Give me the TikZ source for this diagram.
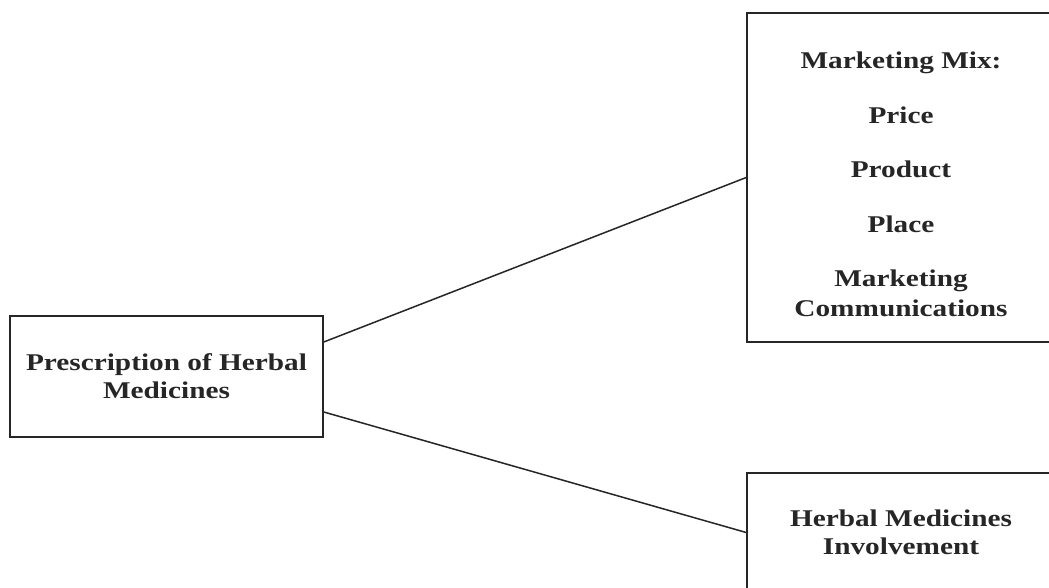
\documentclass[tikz,border=0pt]{standalone}
\usepackage{fontspec}
\setmainfont{Liberation Serif}
\newfontfamily\boxfont[FakeStretch=1.22]{Liberation Serif Bold}
\begin{document}
\begin{tikzpicture}[x=1pt,y=-1pt,
  boxtxt/.style={draw=black!85, line width=1.6pt, rectangle, align=center, inner sep=0pt,
    font=\boxfont\fontsize{24}{28}\selectfont, text=black!85},
  link/.style={draw=black!85, line width=1.5pt}]
\useasboundingbox (0,0) rectangle (1049,588);
\clip (0,0) rectangle (1049,588);
\fill[white] (0,0) rectangle (1049,588);
\node[boxtxt, minimum width=308pt, minimum height=329pt] (mix) at (901,177.5)
  {\raisebox{-16pt}[0pt][0pt]{\begin{tabular}{@{}c@{}}Marketing Mix:\\[26.5pt]Price\\[26.5pt]Product\\[26.5pt]Place\\[26.5pt]Marketing\\[2pt]Communications\end{tabular}}};
\node[boxtxt, minimum width=313pt, minimum height=121pt] (presc) at (166.5,376.5)
  {Prescription of Herbal\\Medicines};
\node[boxtxt, minimum width=308pt, minimum height=119pt] (involve) at (901,532.5)
  {Herbal Medicines\\Involvement};
\draw[link] ([yshift=34.5pt]presc.east) -- (mix.west);
\draw[link] ([yshift=-35.5pt]presc.east) -- (involve.west);
\end{tikzpicture}
\end{document}
